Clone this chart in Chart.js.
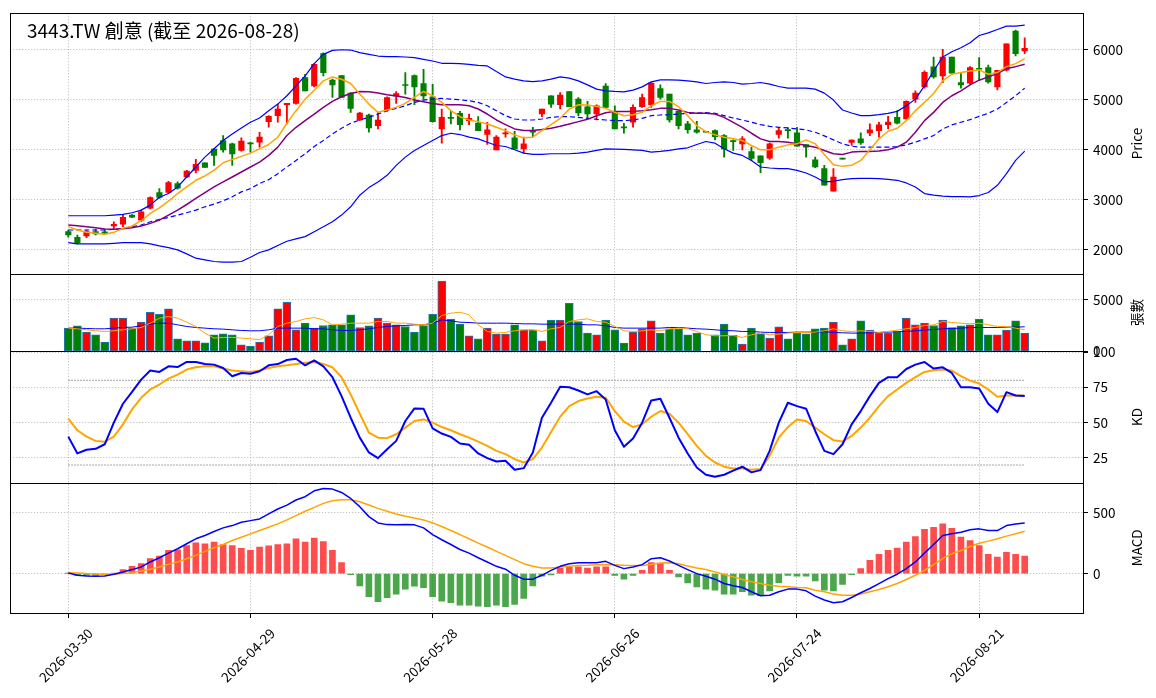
<!DOCTYPE html>
<html>
<head>
<meta charset="utf-8">
<script src="https://cdn.jsdelivr.net/npm/chart.js@4/dist/chart.umd.min.js"></script>
<style>
html,body{margin:0;padding:0;background:#fff;}
#wrap{width:1156px;height:698px;position:relative;}
</style>
</head>
<body>
<div id="wrap"><canvas id="c" width="1156" height="698"></canvas></div>
<script>
const titleText = '3443.TW 創意 (截至 2026-08-28)';

const dates = [
'2026-03-30','2026-03-31',
'2026-04-01','2026-04-02','2026-04-07','2026-04-08','2026-04-09','2026-04-10',
'2026-04-13','2026-04-14','2026-04-15','2026-04-16','2026-04-17',
'2026-04-20','2026-04-21','2026-04-22','2026-04-23','2026-04-24',
'2026-04-27','2026-04-28','2026-04-29','2026-04-30',
'2026-05-04','2026-05-05','2026-05-06','2026-05-07','2026-05-08',
'2026-05-11','2026-05-12','2026-05-13','2026-05-14','2026-05-15',
'2026-05-18','2026-05-19','2026-05-20','2026-05-21','2026-05-22',
'2026-05-25','2026-05-26','2026-05-27','2026-05-28','2026-05-29',
'2026-06-01','2026-06-02','2026-06-03','2026-06-04','2026-06-05',
'2026-06-08','2026-06-09','2026-06-10','2026-06-11','2026-06-12',
'2026-06-15','2026-06-16','2026-06-17','2026-06-18',
'2026-06-22','2026-06-23','2026-06-24','2026-06-25','2026-06-26',
'2026-06-29','2026-06-30',
'2026-07-01','2026-07-02','2026-07-03',
'2026-07-06','2026-07-07','2026-07-08','2026-07-09','2026-07-10',
'2026-07-13','2026-07-14','2026-07-15','2026-07-16','2026-07-17',
'2026-07-20','2026-07-21','2026-07-22','2026-07-23','2026-07-24',
'2026-07-27','2026-07-28','2026-07-29','2026-07-30','2026-07-31',
'2026-08-03','2026-08-04','2026-08-05','2026-08-06','2026-08-07',
'2026-08-10','2026-08-11','2026-08-12','2026-08-13','2026-08-14',
'2026-08-17','2026-08-18','2026-08-19','2026-08-20','2026-08-21',
'2026-08-24','2026-08-25','2026-08-26','2026-08-27','2026-08-28'
];

const openP = [2364,2252,2278,2364,2360,2477,2516,2695,2596,2834,
 3146,3146,3324,3457,3589,3742,4013,4185,4119,3987,
 4139,4152,4563,4682,4900,4927,5444,5278,5921,5391,
 5484,5133,4596,4695,4483,4795,5079,5305,5484,5325,
 5060,4417,4636,4729,4583,4536,4305,4000,4318,4238,
 4020,4364,4715,5079,4901,5166,5013,4861,4715,5272,
 4768,4444,4550,4861,4901,5225,5113,4768,4517,4397,
 4357,4384,4285,4172,4119,3967,3881,3834,4305,4404,
 4338,4106,3801,3623,3172,3821,4146,4219,4338,4384,
 4503,4649,4616,5013,5258,5656,5477,5854,5344,5331,
 5629,5642,5258,5589,6371,5974];
const highP = [2397,2298,2397,2410,2410,2563,2695,2708,2795,3060,
 3225,3371,3358,3589,3808,3742,4026,4285,4132,4238,
 4152,4351,4682,4914,4927,5444,5510,5722,5940,5411,
 5484,5146,4748,4715,4748,5060,5166,5543,5497,5609,
 5311,4815,4768,4768,4715,4662,4550,4285,4417,4371,
 4252,4450,4815,5079,5146,5166,5046,4967,4901,5325,
 4881,4530,4901,5113,5344,5298,5113,4781,4570,4570,
 4357,4397,4305,4199,4265,4053,3881,4132,4450,4437,
 4450,4106,3854,3689,3623,3821,4199,4338,4517,4550,
 4669,4782,4980,5179,5576,5854,6007,5854,5523,5662,
 5841,5695,5589,6119,6391,6238];
const lowP = [2252,2119,2245,2298,2320,2430,2463,2642,2563,2821,
 3026,3126,3212,3444,3536,3649,3689,3954,3689,3973,
 3954,4053,4450,4550,4517,4914,5179,5258,5477,5046,
 5046,4748,4583,4351,4417,4768,4927,5113,4900,5013,
 4550,4132,4517,4397,4503,4384,4106,4000,4252,4020,
 3934,4265,4662,4848,4815,4861,4682,4636,4596,4835,
 4417,4331,4450,4848,4848,5013,4550,4417,4331,4331,
 4351,4199,3854,3987,4000,3788,3543,3808,4232,4232,
 4073,3854,3643,3291,3172,3815,4086,4106,4285,4252,
 4417,4517,4616,4947,5232,5430,5344,5530,5232,5311,
 5397,5331,5199,5576,5874,5921];
const closeP = [2298,2146,2364,2318,2330,2510,2649,2655,2762,3046,
 3046,3344,3232,3576,3708,3649,3887,4000,3920,4172,
 4119,4252,4669,4815,4927,5430,5179,5709,5543,5298,
 5046,4828,4735,4437,4596,5046,5126,5285,5258,5079,
 4563,4649,4629,4503,4629,4384,4397,4252,4331,4020,
 4119,4351,4815,4914,5093,4861,4735,4715,4881,4848,
 4417,4437,4848,5046,5331,5046,4596,4483,4404,4351,
 4351,4265,4020,4165,4218,3828,3742,4119,4384,4384,
 4073,4053,3656,3291,3457,3815,4192,4139,4397,4497,
 4556,4530,4967,5133,5550,5457,5854,5530,5298,5642,
 5609,5358,5589,6119,5921,6027];

const ma5 = [2464,2397,2351,2331,2311,2351,2430,2477,2583,2729,
 2841,2974,3126,3258,3391,3477,3590,3742,3808,3868,
 3934,4020,4106,4252,4530,4782,5013,5192,5378,5457,
 5411,5325,5113,4914,4749,4795,4848,4927,5047,5166,
 5080,4947,4782,4662,4596,4563,4517,4450,4384,4298,
 4239,4252,4384,4503,4629,4815,4901,4894,4868,4828,
 4749,4682,4702,4749,4881,4967,4967,4861,4682,4484,
 4364,4298,4252,4219,4186,4086,4000,4000,4053,4099,
 4119,4199,4119,3907,3702,3669,3689,3788,4000,4219,
 4371,4431,4583,4782,4947,5126,5378,5510,5543,5576,
 5596,5510,5543,5662,5722,5821];
const ma10 = [2497,2483,2464,2444,2417,2411,2424,2444,2477,2530,
 2596,2695,2795,2907,3027,3146,3258,3358,3457,3556,
 3656,3755,3888,4053,4285,4450,4583,4715,4848,4967,
 5060,5126,5166,5159,5133,5100,5073,5047,4994,4960,
 4927,4901,4901,4901,4881,4815,4715,4596,4503,4417,
 4384,4384,4404,4431,4470,4517,4563,4609,4682,4742,
 4768,4768,4768,4782,4801,4828,4828,4795,4748,4729,
 4729,4715,4649,4550,4450,4331,4219,4166,4166,4152,
 4119,4086,4053,3987,3921,3907,3954,3967,3967,3974,
 4000,4053,4152,4351,4583,4748,4947,5080,5179,5298,
 5391,5457,5523,5623,5662,5709];
const bbMid = [2397,2397,2397,2397,2397,2411,2430,2464,2497,2563,
 2609,2649,2695,2742,2795,2861,2914,2980,3060,3159,
 3225,3325,3404,3523,3656,3788,3921,4066,4186,4318,
 4431,4530,4596,4649,4715,4782,4828,4881,4947,4994,
 5013,5027,5013,5000,4980,4947,4881,4782,4682,4616,
 4596,4596,4616,4649,4662,4662,4649,4629,4609,4596,
 4583,4583,4596,4629,4682,4696,4702,4715,4729,4735,
 4742,4729,4682,4636,4596,4550,4503,4470,4450,4437,
 4417,4398,4351,4278,4199,4119,4073,4053,4053,4053,
 4053,4066,4099,4152,4219,4285,4417,4497,4550,4603,
 4669,4729,4815,4947,5080,5232];
const bbUpper = [2682,2682,2682,2682,2682,2695,2709,2742,2795,2894,
 3053,3126,3258,3457,3656,3854,4020,4185,4318,4437,
 4550,4636,4782,4914,5080,5278,5477,5722,5908,5987,
 6000,5994,5941,5908,5874,5861,5861,5855,5841,5808,
 5775,5729,5729,5722,5709,5689,5676,5563,5457,5411,
 5378,5364,5378,5411,5457,5431,5378,5298,5212,5179,
 5166,5159,5192,5258,5358,5398,5398,5391,5378,5358,
 5325,5345,5358,5345,5311,5325,5345,5311,5265,5232,
 5232,5232,5212,5133,4994,4795,4735,4682,4682,4702,
 4729,4768,4881,5013,5278,5576,5855,5961,6040,6139,
 6285,6338,6404,6471,6471,6490];
const bbLower = [2146,2119,2119,2119,2119,2132,2146,2146,2146,2119,
 2079,2046,2000,1921,1834,1801,1768,1755,1755,1768,
 1854,1947,2000,2086,2172,2219,2265,2364,2464,2563,
 2695,2861,3093,3245,3358,3490,3689,3854,3987,4086,
 4186,4285,4331,4305,4252,4219,4152,4086,4066,4000,
 3934,3907,3907,3921,3921,3921,3934,3954,3987,4020,
 4013,4007,4000,3987,3954,3967,3987,4020,4040,4106,
 4166,4133,4020,3934,3888,3788,3656,3636,3623,3623,
 3590,3536,3457,3358,3371,3404,3424,3431,3431,3424,
 3411,3391,3338,3258,3126,3093,3073,3066,3066,3060,
 3086,3146,3291,3523,3788,3974];

const volume = [2244,2468,1859,1603,897,3205,3205,2244,2820,3782,
 3590,4102,1218,1026,1026,833,1603,1699,1603,641,
 513,897,1506,4102,4743,2083,2724,2244,2500,2564,
 2564,3526,2308,2468,3205,2724,2564,2404,1859,2500,
 3590,6795,3109,2628,1506,1218,2244,1667,1667,2564,
 2083,2083,1026,3013,3013,4647,2885,1763,1603,3013,
 2083,801,1859,2179,2949,1763,2179,2179,1603,1763,
 0,1603,2628,1538,705,2244,1699,1282,2372,1218,
 1763,1699,2179,2244,2820,641,1218,2949,2051,1763,
 1763,1923,3205,2564,2724,2500,3013,2308,2468,2564,
 3109,1603,1603,2051,2949,1763];
const volMa5 = [2244,2179,2083,1987,1923,1987,2083,2179,2308,2724,
 3205,3365,3205,2820,2404,1763,1282,1346,1346,1282,
 1218,1122,1603,2404,2724,2885,3141,3269,3045,2564,
 2628,2724,2724,2724,2885,2885,2724,2724,2628,2564,
 2724,3461,3686,3782,3526,2564,1923,1763,1827,1987,
 2083,2083,1923,2179,2308,2885,3045,3141,2885,2820,
 2404,1987,1923,1987,2083,1987,2179,2244,2179,1923,
 1603,1506,1506,1538,1346,1603,1763,1603,1667,1763,
 1827,1827,1859,1987,2179,1987,1923,1987,1923,1827,
 1923,2051,2179,2308,2500,2564,2885,2788,2724,2660,
 2724,2564,2404,2404,2244,2083];
const volMa20 = [2244,2244,2211,2179,2179,2244,2308,2340,2468,2628,
 2724,2724,2564,2404,2308,2244,2179,2147,2083,2019,
 1987,1987,2083,2244,2244,2244,2244,2179,2179,2083,
 2019,2019,2083,2179,2308,2404,2468,2500,2564,2564,
 2724,3045,2949,2820,2788,2724,2724,2724,2724,2692,
 2660,2660,2628,2628,2628,2628,2628,2564,2564,2468,
 2308,2244,2244,2244,2244,2244,2308,2308,2244,2179,
 2147,2083,2019,1987,1923,1923,1859,1827,1827,1827,
 1859,1859,1859,1891,1827,1795,1763,1763,1795,1827,
 1859,1891,1923,1987,2051,2115,2179,2211,2244,2308,
 2308,2308,2308,2340,2340,2372];

const kValues = [40.1,28.2,30.8,31.5,34.7,50.0,63.4,71.8,80.5,86.9,
 85.9,89.9,89.4,93.0,93.0,91.5,91.1,88.7,82.9,85.2,
 84.7,86.4,90.6,91.5,94.4,95.3,90.6,94.1,89.9,82.2,
 68.8,53.5,39.4,28.9,24.9,31.2,37.1,51.2,60.1,59.9,
 46.0,42.3,39.9,35.2,34.3,28.2,24.9,22.5,23.0,16.7,
 17.8,28.9,53.5,64.1,75.4,75.1,72.8,70.0,72.3,66.4,
 44.6,32.9,38.7,50.0,65.7,66.9,53.5,39.4,28.2,18.3,
 13.1,11.7,13.1,16.0,18.8,14.8,16.4,30.0,50.0,64.1,
 61.7,59.9,44.1,30.0,27.7,34.7,48.8,58.2,68.8,78.2,
 82.2,82.2,88.0,91.1,93.0,88.3,89.2,85.2,75.1,75.1,
 74.2,63.4,57.5,71.6,69.2,68.8];
const dValues = [52.8,44.6,40.1,37.1,36.4,40.1,48.8,59.4,67.6,73.5,
 77.0,81.2,84.0,87.6,89.2,89.9,89.9,88.3,86.9,86.4,
 85.9,86.9,88.7,89.9,90.6,91.5,92.5,93.0,91.5,89.2,
 82.2,70.0,56.3,43.0,39.4,39.0,41.8,46.5,51.2,52.3,
 50.0,46.9,44.6,41.8,39.4,36.6,33.6,30.0,27.7,24.2,
 21.8,24.2,32.4,43.4,54.2,61.7,65.3,67.1,68.3,67.6,
 58.2,50.7,46.9,48.8,54.2,58.2,56.3,50.0,41.8,33.6,
 26.5,21.8,18.8,17.6,17.6,16.7,17.1,26.5,39.4,46.9,
 52.3,51.2,46.5,41.8,37.6,36.6,40.6,46.5,53.5,61.7,
 68.8,73.5,78.2,82.2,85.9,87.1,87.6,86.9,82.9,79.8,
 77.7,73.5,68.3,69.2,69.2,69.2];
const kdLevels = [80, 20];

const dif = [5,-14,-19,-22,-19,-5,14,33,55,96,
 131,169,205,246,287,314,347,377,396,423,
 437,451,492,533,565,607,634,683,702,697,
 669,620,552,470,418,404,402,404,402,377,
 322,279,240,199,169,131,96,60,36,-14,
 -46,-46,-14,27,60,82,90,90,90,101,
 68,41,55,74,123,131,104,68,33,0,
 -22,-46,-82,-101,-115,-150,-183,-178,-150,-128,
 -128,-142,-186,-218,-240,-232,-197,-158,-123,-82,
 -41,-5,41,96,169,240,314,328,341,361,
 369,355,355,396,410,418];
const dea = [8,5,0,-3,-5,-5,0,8,22,36,
 55,76,96,123,150,183,213,240,273,300,
 328,355,382,410,443,478,514,546,579,601,
 609,609,593,566,538,514,492,473,459,443,
 418,388,355,322,287,251,219,183,150,115,
 82,60,46,46,55,60,66,68,74,76,
 74,68,66,66,76,87,90,82,63,46,
 33,14,-8,-27,-49,-68,-82,-96,-104,-109,
 -115,-117,-137,-150,-169,-178,-178,-169,-150,-131,
 -109,-82,-49,-14,27,74,123,164,191,224,
 251,268,287,309,328,350];
const macdHist = [2,-16,-16,-14,-5,5,33,60,82,123,
 145,191,197,232,254,246,260,240,232,208,
 191,219,230,240,246,287,260,292,265,191,
 90,-8,-101,-191,-232,-199,-169,-128,-104,-117,
 -191,-227,-240,-260,-260,-268,-273,-260,-273,-254,
 -205,-101,-22,-10,46,55,55,46,55,55,
 -14,-46,-14,27,90,87,27,-27,-76,-109,
 -128,-137,-169,-169,-150,-178,-183,-142,-74,-14,
 -22,-22,-60,-137,-142,-90,-8,41,109,158,
 191,210,260,306,366,382,410,374,301,273,
 232,158,137,175,158,145];

const xTicks = [0, 20, 40, 60, 80, 100];
const priceTicks = [2000, 3000, 4000, 5000, 6000];
const volTicks = [0, 5000];
const kdTicks = [25, 50, 75, 100];
const macdTicks = [0, 500];
const axisTitles = [['yP', 'Price'], ['yV', '張數'], ['yK', 'KD'], ['yM', 'MACD']];

const FONT = '"Noto Sans CJK TC", "Noto Sans", sans-serif';
Chart.defaults.font.family = FONT;
Chart.defaults.font.size = 13.5;
Chart.defaults.color = '#000';

const UP = '#ff0000', DOWN = '#008000';
const candleColors = closeP.map((c, i) => c >= openP[i] ? UP : DOWN);
const histColors = macdHist.map(v => v >= 0 ? 'rgba(255,0,0,0.7)' : 'rgba(0,128,0,0.7)');
const pts = arr => arr.map((v, i) => ({x: i, y: v}));
const lastIdx = dates.length - 1;
const GRID_COLOR = '#b8b8b8';
const GRID_DASH = [1.3, 1.7];

function lineDS(arr, color, width, axis, dash) {
  return {type: 'line', data: pts(arr), borderColor: color, borderWidth: width,
    borderDash: dash || [], pointRadius: 0, tension: 0, fill: false, yAxisID: axis, order: 0,
    borderJoinStyle: 'round'};
}
function levelDS(level) {
  return {type: 'line', data: [{x: 0, y: level}, {x: lastIdx, y: level}], borderColor: '#888888',
    borderWidth: 1, borderDash: [1.5, 1.5], pointRadius: 0, fill: false, yAxisID: 'yK', order: 2};
}
const setTicks = arr => s => { s.ticks = arr.map(v => ({value: v})); };
function yScale(min, max, weight, ticks) {
  return {
    type: 'linear', position: 'right', stack: 'panes', stackWeight: weight,
    min: min, max: max,
    afterBuildTicks: setTicks(ticks),
    afterFit: s => { s.width = 73; },
    grid: {color: GRID_COLOR, lineWidth: 0.8, drawTicks: true, tickLength: 5, tickColor: '#000', tickWidth: 1, tickBorderDash: [1, 0]},
    border: {display: false, dash: GRID_DASH},
    ticks: {padding: 5, color: '#000', font: {size: 13.5}, autoSkip: false, callback: v => String(v)}
  };
}

const decor = {
  id: 'decor',
  afterDraw(chart) {
    const {ctx, chartArea: ca, scales} = chart;
    ctx.save();
    ctx.strokeStyle = '#000';
    ctx.lineWidth = 1;
    const L = Math.round(ca.left) + 0.5, R = Math.round(ca.right) + 0.5;
    const T = Math.round(ca.top) + 0.5, B = Math.round(ca.bottom) + 0.5;
    ctx.strokeRect(L, T, R - L, B - T);
    ctx.beginPath();
    ['yV', 'yK', 'yM'].forEach(id => {
      const y = Math.round(scales[id].top) + 0.5;
      ctx.moveTo(L, y);
      ctx.lineTo(R, y);
    });
    ctx.stroke();
    ctx.fillStyle = '#000';
    ctx.font = 'normal 19px ' + FONT;
    ctx.textAlign = 'left';
    ctx.textBaseline = 'alphabetic';
    ctx.fillText(titleText, 27, 38);
    ctx.font = '13.5px ' + FONT;
    axisTitles.forEach(([id, text]) => {
      const s = scales[id];
      ctx.save();
      ctx.translate(1137, (s.top + s.bottom) / 2);
      ctx.rotate(-Math.PI / 2);
      ctx.textAlign = 'center';
      ctx.textBaseline = 'middle';
      ctx.fillText(text, 0, 0);
      ctx.restore();
    });
    ctx.restore();
  }
};

new Chart(document.getElementById('c'), {
  type: 'bar',
  data: {
    datasets: [
      lineDS(ma5, '#ffa500', 1.5, 'yP'),
      lineDS(ma10, '#800080', 1.5, 'yP'),
      lineDS(bbMid, '#0000ff', 1.2, 'yP', [5, 3]),
      lineDS(bbUpper, '#0000ff', 1.2, 'yP'),
      lineDS(bbLower, '#0000ff', 1.2, 'yP'),
      {type: 'bar', data: openP.map((o, i) => ({x: i, y: [o, closeP[i]]})), backgroundColor: candleColors,
        barThickness: 5.5, minBarLength: 1, grouped: false, yAxisID: 'yP', order: 1},
      {type: 'bar', data: lowP.map((l, i) => ({x: i, y: [l, highP[i]]})), backgroundColor: candleColors,
        barThickness: 1.2, minBarLength: 1, grouped: false, yAxisID: 'yP', order: 1},
      lineDS(volMa5, '#ffa500', 1, 'yV'),
      lineDS(volMa20, '#0000ff', 1, 'yV'),
      {type: 'bar', data: pts(volume), backgroundColor: candleColors, borderColor: '#1f77b4', borderWidth: 1,
        borderSkipped: false, barThickness: 8, grouped: false, yAxisID: 'yV', order: 1},
      lineDS(kValues, '#0000ff', 2, 'yK'),
      lineDS(dValues, '#ffa500', 2, 'yK'),
      levelDS(kdLevels[0]),
      levelDS(kdLevels[1]),
      lineDS(dif, '#0000ff', 1.5, 'yM'),
      lineDS(dea, '#ffa500', 1.5, 'yM'),
      {type: 'bar', data: pts(macdHist), backgroundColor: histColors, barThickness: 6,
        grouped: false, yAxisID: 'yM', order: 1}
    ]
  },
  options: {
    responsive: false,
    animation: false,
    events: [],
    layout: {padding: {left: 10, top: 10, right: 0, bottom: 0}},
    plugins: {legend: {display: false}, tooltip: {enabled: false}, title: {display: false}},
    scales: {
      x: {
        type: 'linear', position: 'bottom', min: -6.4, max: 111.4, offset: false,
        afterBuildTicks: setTicks(xTicks),
        afterFit: s => { s.height = 85; },
        grid: {offset: false, color: GRID_COLOR, lineWidth: 0.8, drawTicks: true, tickLength: 5, tickColor: '#000', tickWidth: 1, tickBorderDash: [1, 0]},
        border: {display: false, dash: GRID_DASH},
        ticks: {autoSkip: false, minRotation: 45, maxRotation: 45, padding: 7, labelOffset: 22,
          color: '#000', font: {size: 13.5},
          callback: v => dates[v] || ''}
      },
      yP: yScale(1523, 6732, 262, priceTicks),
      yV: yScale(0, 7500, 78, volTicks),
      yK: yScale(7.5, 100.5, 132, kdTicks),
      yM: yScale(-325, 750, 131, macdTicks)
    }
  },
  plugins: [decor]
});
</script>
</body>
</html>
